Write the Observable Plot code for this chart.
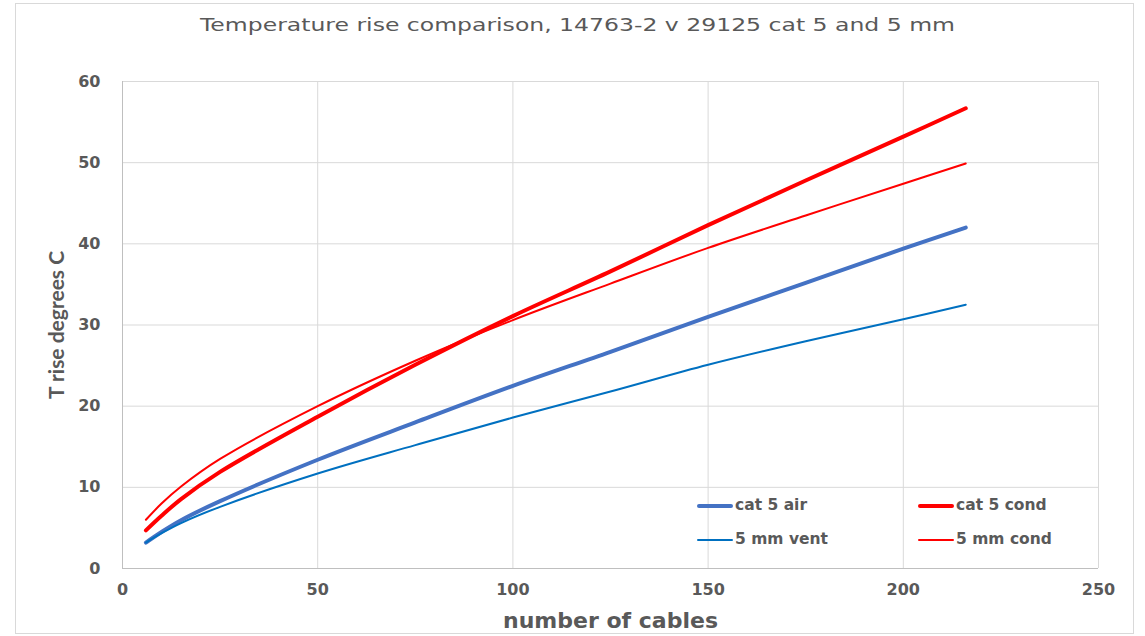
<!DOCTYPE html>
<html>
<head>
<meta charset="utf-8">
<script src="https://cdn.jsdelivr.net/npm/d3@7"></script>
<script src="https://cdn.jsdelivr.net/npm/@observablehq/plot@0.6"></script>
<style>
  html, body { margin: 0; padding: 0; background: #fff; }
  #wrap { position: relative; width: 1145px; height: 636px; overflow: hidden; }
  #frame { position: absolute; left: 15px; top: 3px; width: 1119px; height: 631px; border: 1px solid #d9d9d9; box-sizing: border-box; pointer-events: none; }
  #title { position: absolute; left: 0; top: 0; width: 1145px; height: 60px; }
  #title span { position: absolute; left: 577px; top: 14px; white-space: nowrap; font-family: "DejaVu Sans", sans-serif; font-size: 18.5px; color: #595959; transform-origin: 0 0; }
  #chart { position: absolute; left: 0; top: 60px; }
  .lg { position: absolute; font-family: "DejaVu Sans", sans-serif; font-weight: bold; font-size: 15.5px; color: #595959; white-space: nowrap; line-height: 1; }
  .sw { position: absolute; border-radius: 2px; }
</style>
</head>
<body>
<div id="wrap">
  <div id="title"><span id="titleText"></span></div>
  <div id="chart"></div>
  <div id="legend"></div>
  <div id="frame"></div>
</div>
<script>
const titleText = "Temperature rise comparison, 14763-2 v 29125 cat 5 and 5 mm";
const xLabel = "number of cables";
const yLabel = "T rise degrees C";

const cables = [6, 10, 15, 25, 50, 75, 100, 125, 150, 175, 200, 216];
const cat5Air  = [3.2, 4.5, 5.95, 8.3, 13.4, 18.0, 22.5, 26.7, 31.0, 35.2, 39.4, 42.0];
const cat5Cond = [4.7, 6.5, 8.55, 11.9, 18.7, 25.1, 31.1, 36.6, 42.3, 47.8, 53.2, 56.7];
const mmVent   = [3.2, 4.35, 5.6, 7.6, 11.7, 15.2, 18.6, 21.8, 25.1, 28.0, 30.7, 32.5];
const mmCond   = [6.0, 8.0, 10.1, 13.5, 20.0, 25.6, 30.6, 35.1, 39.5, 43.5, 47.4, 49.9];

const xTicks = [0, 50, 100, 150, 200, 250];
const yTicks = [0, 10, 20, 30, 40, 50, 60];

const series = [
  {name: "cat 5 air",  values: cat5Air,  color: "#4472C4", width: 4},
  {name: "cat 5 cond", values: cat5Cond, color: "#FF0000", width: 4},
  {name: "5 mm vent",  values: mmVent,   color: "#0070C0", width: 2},
  {name: "5 mm cond",  values: mmCond,   color: "#FF0000", width: 2}
];

// Title
const tEl = document.getElementById("titleText");
tEl.textContent = titleText;
const tw = tEl.getBoundingClientRect().width;
const sx = 755 / tw;
tEl.style.transform = `scaleX(${sx})`;
tEl.style.left = (577 - 755 / 2) + "px";

const lineMarks = series.map(s =>
  Plot.line(cables.map((c, i) => ({x: c, y: s.values[i]})), {
    x: "x", y: "y", stroke: s.color, strokeWidth: s.width,
    curve: "catmull-rom", strokeLinecap: "round", strokeLinejoin: "round"
  })
);

const chart = Plot.plot({
  width: 1145,
  height: 576,
  marginLeft: 122,
  marginRight: 47,
  marginTop: 21,
  marginBottom: 68,
  style: {fontFamily: "DejaVu Sans, sans-serif", fontWeight: "bold", color: "#595959", background: "transparent", overflow: "visible"},
  x: {domain: [0, 250]},
  y: {domain: [0, 60]},
  marks: [
    Plot.gridX(xTicks, {stroke: "#d9d9d9", strokeOpacity: 1, strokeWidth: 1}),
    Plot.gridY(yTicks, {stroke: "#d9d9d9", strokeOpacity: 1, strokeWidth: 1}),
    Plot.ruleX([0], {stroke: "#bfbfbf", strokeWidth: 1}),
    Plot.ruleY([0], {stroke: "#bfbfbf", strokeWidth: 1}),
    Plot.axisX(xTicks, {tickSize: 0, tickPadding: 15, fontSize: 16, fill: "#595959", label: null}),
    Plot.axisY(yTicks, {tickSize: 0, tickPadding: 22, fontSize: 16, fill: "#595959", label: null}),
    Plot.text([xLabel], {frameAnchor: "bottom", dy: 52, fontSize: 22, fontWeight: "bold", fill: "#595959", lineAnchor: "middle", textAnchor: "middle"}),
    Plot.text([yLabel], {frameAnchor: "left", dx: -65, rotate: -90, fontSize: 21, fontWeight: "bold", fontFamily: "Lato, sans-serif", fill: "#595959", lineAnchor: "middle", textAnchor: "middle"}),
    ...lineMarks
  ]
});
document.getElementById("chart").appendChild(chart);

// Legend (HTML overlay)
const legendPos = [
  {sx: 697, tx: 735, y: 506},
  {sx: 918, tx: 956, y: 506},
  {sx: 697, tx: 735, y: 540},
  {sx: 918, tx: 956, y: 540}
];
const lg = document.getElementById("legend");
series.forEach((s, i) => {
  const p = legendPos[i];
  const sw = document.createElement("div");
  sw.className = "sw";
  const h = s.width === 4 ? 3.5 : 2;
  sw.style.left = p.sx + "px";
  sw.style.top = (p.y - h / 2) + "px";
  sw.style.width = "36px";
  sw.style.height = h + "px";
  sw.style.background = s.color;
  lg.appendChild(sw);
  const t = document.createElement("div");
  t.className = "lg";
  t.textContent = s.name;
  t.style.left = p.tx + "px";
  t.style.top = (p.y - 8) + "px";
  lg.appendChild(t);
});
</script>
</body>
</html>
